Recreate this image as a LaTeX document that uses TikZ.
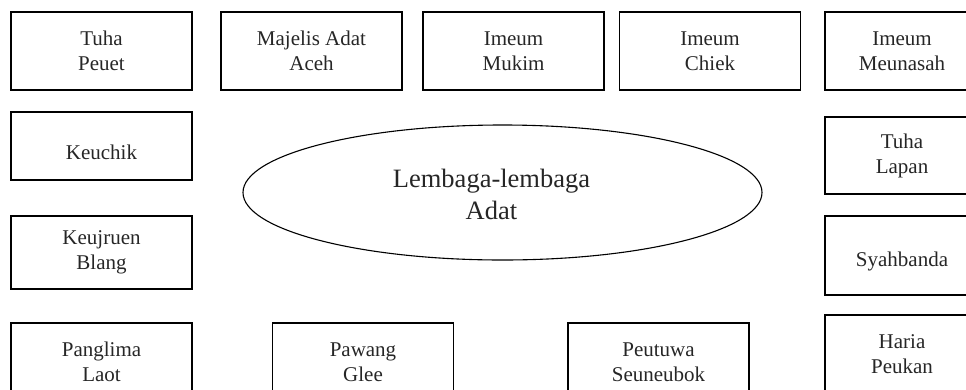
\documentclass[tikz,border=0pt]{standalone}
\usepackage{fontspec}
\setmainfont{Liberation Serif}
\usetikzlibrary{shapes.geometric}

\begin{document}
\begin{tikzpicture}[x=1pt,y=-1pt,
    kotak/.style={draw,line width=1.1pt,rectangle,inner sep=0pt,align=center,
      minimum width=181pt,minimum height=78pt,
      font=\fontsize{21}{25}\selectfont,text=black!85},
    kotakkanan/.style={kotak,minimum width=154pt}]
  \useasboundingbox (0,0) rectangle (966,389);
  \clip (0,0) rectangle (966,389);
  \node[kotak] (tuhapeuet) at (101.5,51) {Tuha\\Peuet};
  \node[kotak] (majelis) at (311.5,51) {Majelis Adat\\Aceh};
  \node[kotak] (mukim) at (513.5,51) {Imeum\\Mukim};
  \node[kotak] (chiek) at (710,51) {Imeum\\Chiek};
  \node[kotakkanan] (meunasah) at (902,51) {Imeum\\Meunasah};
  \node[kotak,minimum height=68pt] (keuchik) at (101.5,146)
    {\raisebox{-6pt}[15pt][0pt]{Keuchik}};
  \node[kotak,minimum height=73pt] (keujruen) at (101.5,252.5) {Keujruen\\Blang};
  \node[kotak] (panglima) at (101.5,362) {Panglima\\Laot};
  \node[kotak] (pawang) at (363,362) {Pawang\\Glee};
  \node[kotak] (peutuwa) at (658.5,362) {Peutuwa\\Seuneubok};
  \node[kotakkanan,minimum height=77pt] (tuhalapan) at (902,155.5) {Tuha\\Lapan};
  \node[kotakkanan,minimum height=79pt] (syahbanda) at (902,255.5)
    {\raisebox{-3pt}[15pt][0pt]{Syahbanda}};
  \node[kotakkanan] (haria) at (902,354) {Haria\\Peukan};
  \node[draw,line width=1.1pt,ellipse,inner sep=0pt,minimum width=519pt,
    minimum height=135pt] (lembaga) at (502.5,192.5) {};
  \node[align=center,font=\fontsize{26.5}{32}\selectfont,text=black!85]
    (lembagateks) at ([xshift=-11pt,yshift=-2pt]lembaga.center)
    {Lembaga-lembaga\\Adat};
\end{tikzpicture}
\end{document}
